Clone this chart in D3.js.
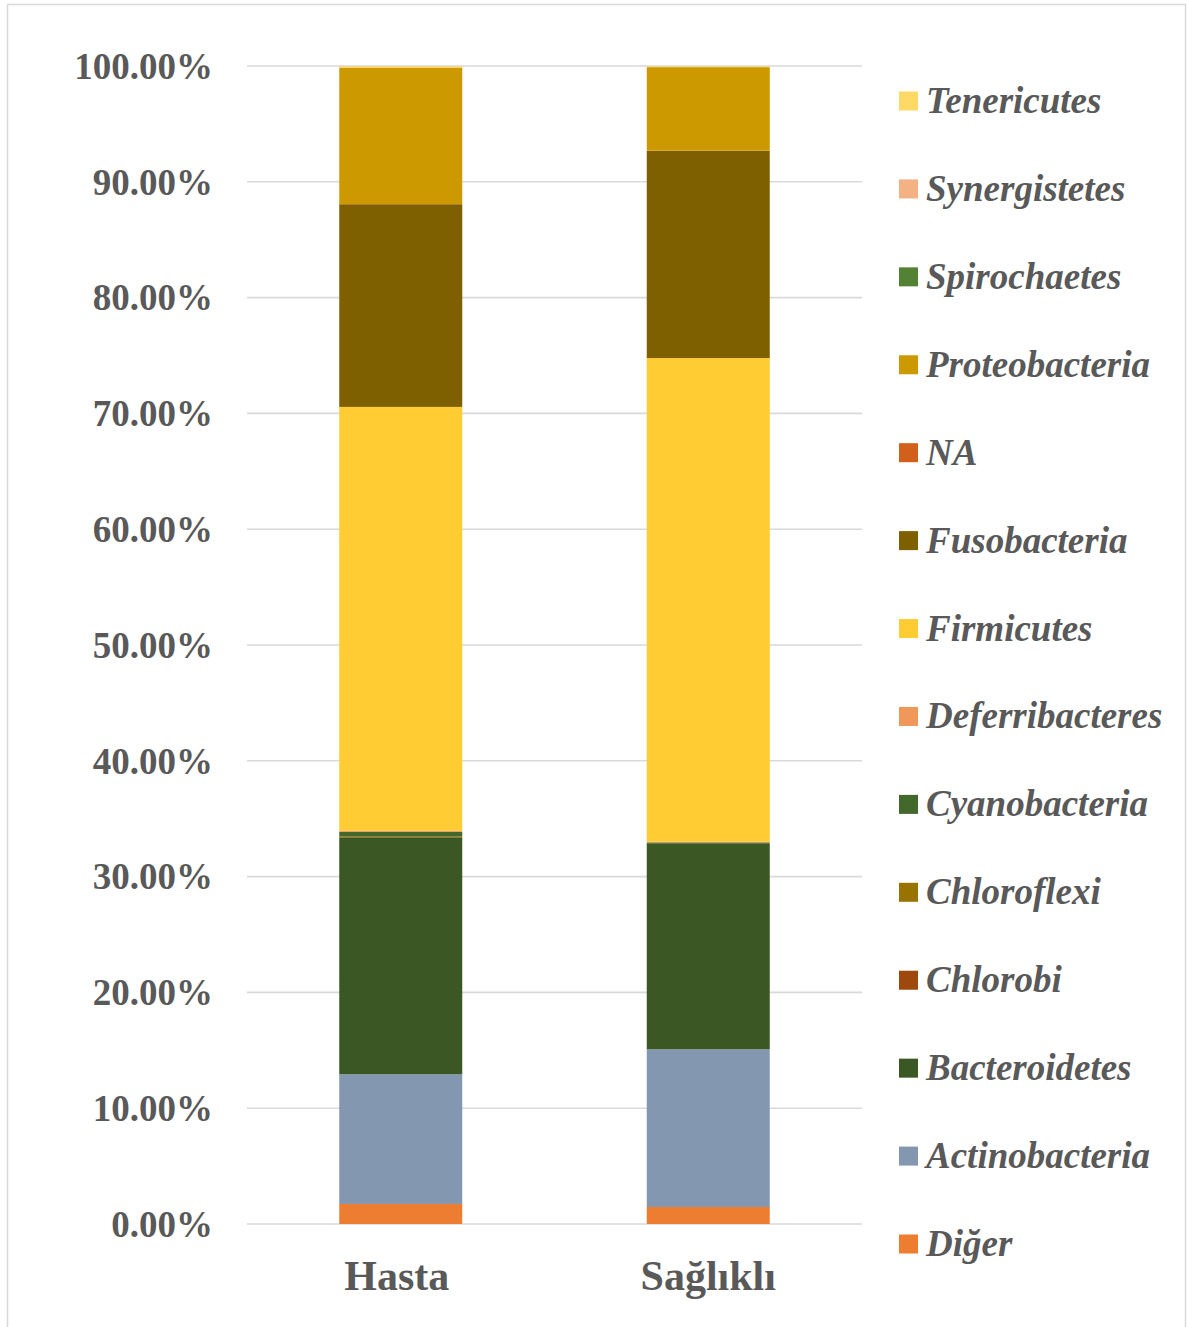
<!DOCTYPE html>
<html>
<head>
<meta charset="utf-8">
<script src="https://cdn.jsdelivr.net/npm/d3@7/dist/d3.min.js"></script>
<style>
  html, body { margin: 0; padding: 0; background: #ffffff; }
  svg { display: block; }
  text { font-family: "Liberation Serif", "Times New Roman", serif; fill: #595959; font-weight: bold; }
</style>
</head>
<body>
<svg id="chart" width="1187" height="1327"></svg>
<script>
// Groups on the x axis
const categories = ["Hasta", "Sağlıklı"];

// Phyla, stacked from the bottom up
const phyla = ["Diğer", "Actinobacteria", "Bacteroidetes", "Chlorobi", "Chloroflexi",
  "Cyanobacteria", "Deferribacteres", "Firmicutes", "Fusobacteria", "NA",
  "Proteobacteria", "Spirochaetes", "Synergistetes", "Tenericutes"];

// Relative abundance (%) per phylum, same order as phyla
const hastaValues    = [1.73, 11.2, 20.46, 0.02, 0.08, 0.37, 0.10, 36.6, 17.5, 0.02, 11.75, 0.02, 0.03, 0.12];
const saglikliValues = [1.47, 13.62, 17.79, 0.01, 0.02, 0.05, 0.05, 41.77, 17.9, 0.01, 7.2, 0.01, 0.02, 0.08];

const phylumColors = ["#ED7D31", "#8497B0", "#3A5724", "#9E480E", "#997300",
  "#43682B", "#F0975A", "#FFCC33", "#7F6000", "#D2601A",
  "#CC9900", "#548235", "#F4B183", "#FFD966"];

const yTicks = [0, 10, 20, 30, 40, 50, 60, 70, 80, 90, 100];

// Table rows built for d3.stack
const rows = categories.map((c, i) => {
  const src = i === 0 ? hastaValues : saglikliValues;
  const r = { group: c };
  phyla.forEach((p, j) => { r[p] = src[j]; });
  return r;
});

const svg = d3.select("#chart");

// Outer chart frame
svg.append("rect")
  .attr("x", 7.5).attr("y", 4.5)
  .attr("width", 1178).attr("height", 1330)
  .attr("fill", "#ffffff")
  .attr("stroke", "#d9d9d9").attr("stroke-width", 1.5);

const x = d3.scaleBand().domain(categories).range([247, 862])
  .paddingInner(0.6).paddingOuter(0.3);
const y = d3.scaleLinear().domain([0, 100]).range([1224, 66]);
const color = d3.scaleOrdinal().domain(phyla).range(phylumColors);

// Horizontal gridlines
svg.append("g").selectAll("line").data(yTicks).join("line")
  .attr("x1", 247).attr("x2", 862)
  .attr("y1", d => y(d)).attr("y2", d => y(d))
  .attr("stroke", "#d9d9d9").attr("stroke-width", 1.6);

// Y axis labels
const yAxis = d3.axisLeft(y).tickValues(yTicks).tickSize(0).tickPadding(0)
  .tickFormat(d => d3.format(".2f")(d) + "%");
const gy = svg.append("g").attr("transform", "translate(213,0)").call(yAxis);
gy.select(".domain").remove();
gy.selectAll("text")
  .attr("font-family", "Liberation Serif").attr("font-weight", "bold")
  .attr("font-size", 37).attr("fill", "#595959").attr("dy", "0.33em");

// Stacked bars
const series = d3.stack().keys(phyla)(rows);
svg.append("g").selectAll("g").data(series).join("g")
  .attr("fill", d => color(d.key))
  .selectAll("rect").data(d => d).join("rect")
  .attr("x", d => x(d.data.group))
  .attr("width", x.bandwidth())
  .attr("y", d => y(d[1]))
  .attr("height", d => y(d[0]) - y(d[1]));

// X axis labels
const xAxis = d3.axisBottom(x).tickSize(0).tickPadding(0);
const gx = svg.append("g").attr("transform", "translate(0,1290)").call(xAxis);
gx.select(".domain").remove();
gx.selectAll("text")
  .attr("font-family", "Liberation Serif").attr("font-weight", "bold")
  .attr("font-size", 42).attr("fill", "#595959").attr("dy", 0)
  .attr("dx", (d, i) => i === 0 ? -4 : 0);

// Legend, listed top-down in reverse stacking order
const legendItems = phyla.slice().reverse();
const legendY = d3.scalePoint().domain(legendItems).range([101, 1244]);
const lg = svg.append("g").selectAll("g").data(legendItems).join("g")
  .attr("transform", d => `translate(899,${legendY(d)})`);
lg.append("rect")
  .attr("x", 0).attr("y", -9.5).attr("width", 19).attr("height", 19)
  .attr("fill", d => color(d));
lg.append("text")
  .attr("x", 27).attr("y", 12)
  .attr("font-size", 37).attr("font-style", "italic")
  .text(d => d);
</script>
</body>
</html>
